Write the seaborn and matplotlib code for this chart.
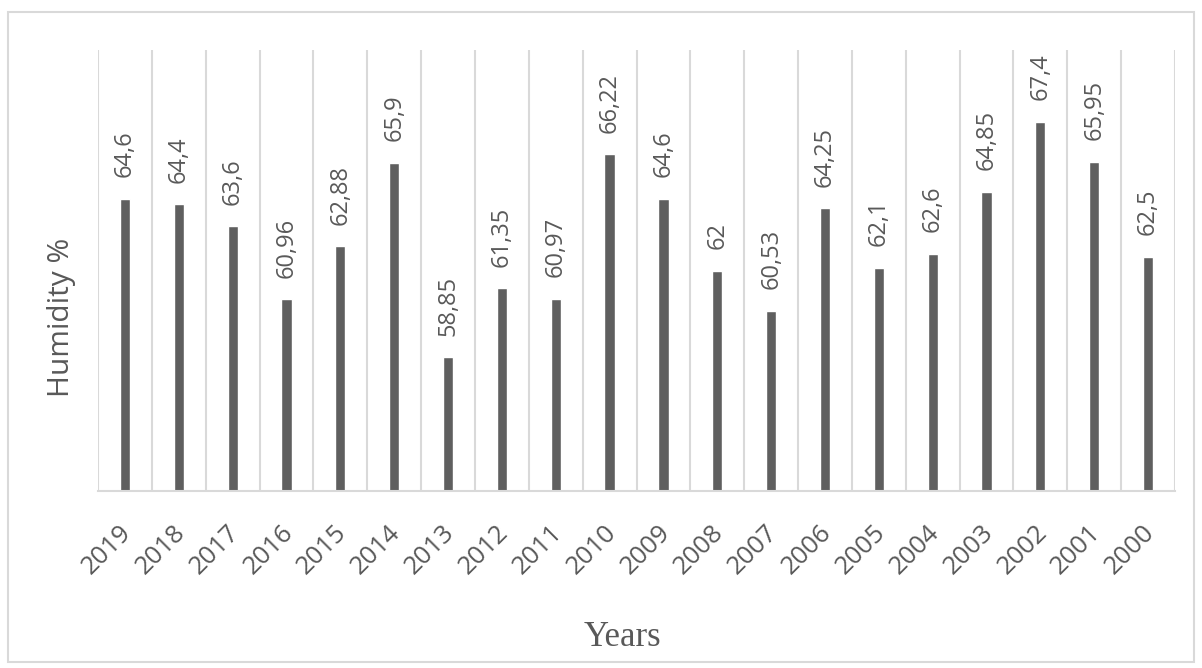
import matplotlib
matplotlib.use("Agg")
import matplotlib.pyplot as plt
import matplotlib.transforms as mtransforms
import seaborn as sns
import pandas as pd
from matplotlib.patches import Rectangle

years = ["2019", "2018", "2017", "2016", "2015", "2014", "2013", "2012", "2011", "2010",
         "2009", "2008", "2007", "2006", "2005", "2004", "2003", "2002", "2001", "2000"]
humidity = [64.6, 64.4, 63.6, 60.96, 62.88, 65.9, 58.85, 61.35, 60.97, 66.22,
            64.6, 62.0, 60.53, 64.25, 62.1, 62.6, 64.85, 67.4, 65.95, 62.5]
value_labels = ["64,6", "64,4", "63,6", "60,96", "62,88", "65,9", "58,85", "61,35", "60,97", "66,22",
                "64,6", "62", "60,53", "64,25", "62,1", "62,6", "64,85", "67,4", "65,95", "62,5"]

df = pd.DataFrame({"year": years, "humidity": humidity})

sns.set_theme(style="white")
plt.rcParams["font.family"] = ["Open Sans", "DejaVu Sans"]

text_grey = "#595959"
grid_grey = "#d9d9d9"
bar_grey = "#5f5f5f"

W, H = 1202, 668
fig = plt.figure(figsize=(W / 100, H / 100), dpi=100)
ax = fig.add_axes([98 / W, 1 - 491 / H, (1175 - 98) / W, (491 - 50) / H])

sns.barplot(data=df, x="year", y="humidity", order=years, color=bar_grey,
            width=0.19, saturation=1, ax=ax, zorder=3)

ax.set_ylim(54, 70)
ax.set_xlim(-0.5, len(years) - 0.5)

# vertical separators between categories
for i in range(len(years) + 1):
    ax.axvline(i - 0.5, color=grid_grey, lw=1.5, zorder=1)

for spine in ["top", "right", "left"]:
    ax.spines[spine].set_visible(False)
ax.spines["bottom"].set_color(grid_grey)
ax.spines["bottom"].set_linewidth(1.5)
ax.spines["bottom"].set_zorder(4)

ax.set_yticks([])
ax.set_xlabel("")
ax.set_ylabel("")
ax.tick_params(axis="x", length=0, pad=21, labelsize=18.5, labelcolor=text_grey)
shift = mtransforms.ScaledTranslation(-0.06, 0, fig.dpi_scale_trans)
for lbl in ax.get_xticklabels():
    lbl.set_rotation(45)
    lbl.set_ha("right")
    lbl.set_va("top")
    lbl.set_rotation_mode("anchor")
    lbl.set_transform(lbl.get_transform() + shift)

for i, (v, t) in enumerate(zip(humidity, value_labels)):
    ax.annotate(t, xy=(i, v), xytext=(0, 15.5), textcoords="offset points",
                rotation=90, ha="center", va="bottom", fontsize=17, color=text_grey)

# axis titles
fig.text(622 / W, 1 - 646 / H, "Years", family=["Liberation Serif", "DejaVu Serif"],
         fontsize=25, color=text_grey, ha="center", va="baseline")
fig.text(62 / W, 1 - 317.5 / H, "Humidity %", fontsize=21.5, color=text_grey,
         rotation=90, ha="center", va="center")

# chart frame
fig.patches.append(Rectangle((8 / W, 1 - 662 / H), (1194 - 8) / W, (662 - 12) / H,
                             transform=fig.transFigure, fill=False, edgecolor=grid_grey, lw=1.5))

fig.savefig("out.png", dpi=100, facecolor="white")
